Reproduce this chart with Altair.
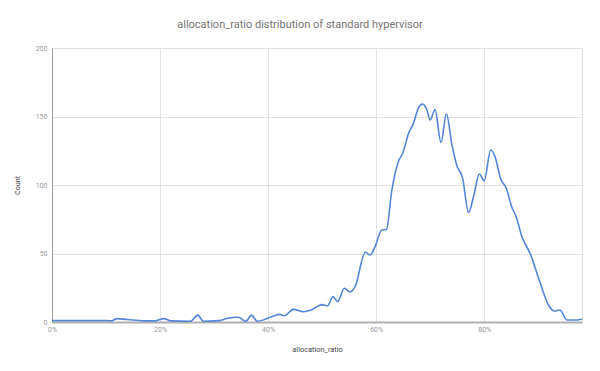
import altair as alt
import pandas as pd

ratio_pct = [0, 5, 10, 11, 12, 14, 17, 19, 20.7, 22, 25.6, 27, 28, 31, 32.3, 34.5, 35.9, 36.9, 38,
             39.8, 41, 42, 43, 44.7, 46.5, 48, 50, 51, 52, 52.9, 54.1, 55.2, 56.1, 58, 58.9, 59.8,
             61, 61.9, 62.9, 64.1, 64.9, 66, 66.9, 67.8, 68.6, 69.4, 70, 70.9, 72, 73, 74, 74.9,
             76, 77.1, 78.1, 79.1, 80, 81.2, 82, 83, 84.1, 85.1, 85.9, 87, 88.5, 90.4, 91.9, 93,
             94, 95.3, 97.2, 98.1]
counts = [1, 1, 1, 0.8, 2.5, 1.8, 0.8, 0.8, 2.5, 0.8, 0.5, 5, 0.5, 1, 2.5, 3.5, 0.5, 5, 0.5,
          2.5, 4.4, 5.6, 4.6, 9.2, 7.5, 8.8, 12.7, 11.7, 18.5, 14.8, 24.6, 22, 25.8, 50.9, 48.9, 55,
          67, 67.6, 96, 117, 123, 137.7, 145, 156, 159, 154.7, 147.4, 155, 131, 152, 130, 114.6,
          105, 80, 92.7, 108, 103, 125.5, 120.7, 105, 97.5, 84, 77, 62, 50, 28, 12.4, 8,
          8.8, 1.5, 1.5, 2.2]

x_ticks = [0, 0.2, 0.4, 0.6, 0.8]
y_ticks = [0, 50, 100, 150, 200]

df = pd.DataFrame({"ratio": [v / 100 for v in ratio_pct], "count": counts})

chart = alt.Chart(df).mark_line(
    interpolate="monotone", color="#5585d8", strokeWidth=1.6
).encode(
    x=alt.X("ratio:Q", title="allocation_ratio",
            scale=alt.Scale(domain=[0, 0.981], nice=False, zero=False),
            axis=alt.Axis(values=x_ticks, format=".0%", ticks=False, labelPadding=3,
                          labelFontSize=7, labelColor="#999999", titleFontSize=7.4,
                          titleColor="#444444", titleFontWeight="normal", titlePadding=13,
                          domainColor="#b0b0b0", domainWidth=2, gridColor="#e3e3e3",
                          labelFont="Roboto", titleFont="Roboto", labelFlush=False)),
    y=alt.Y("count:Q", title="Count",
            scale=alt.Scale(domain=[0, 200], nice=False),
            axis=alt.Axis(values=y_ticks, ticks=False, labelPadding=5,
                          labelFontSize=7, labelColor="#999999", titleFontSize=7.2,
                          titleColor="#444444", titleFontWeight="normal", titlePadding=14,
                          domainColor="#9a9a9a", domainWidth=1, gridColor="#e3e3e3",
                          labelFont="Roboto", titleFont="Roboto")),
).properties(
    width=530, height=274,
    title=alt.TitleParams("allocation_ratio distribution of standard hypervisor",
                          font="Roboto", fontSize=11, fontWeight="normal",
                          color="#757575", offset=14, anchor="middle", dx=-17),
    autosize=alt.AutoSizeParams(type="none"),
    padding={"left": 44, "top": 40, "right": 10, "bottom": 40},
).configure_view(stroke=None).configure(background="white")

chart.save("out.html", embed_options={"renderer": "svg", "actions": False})
